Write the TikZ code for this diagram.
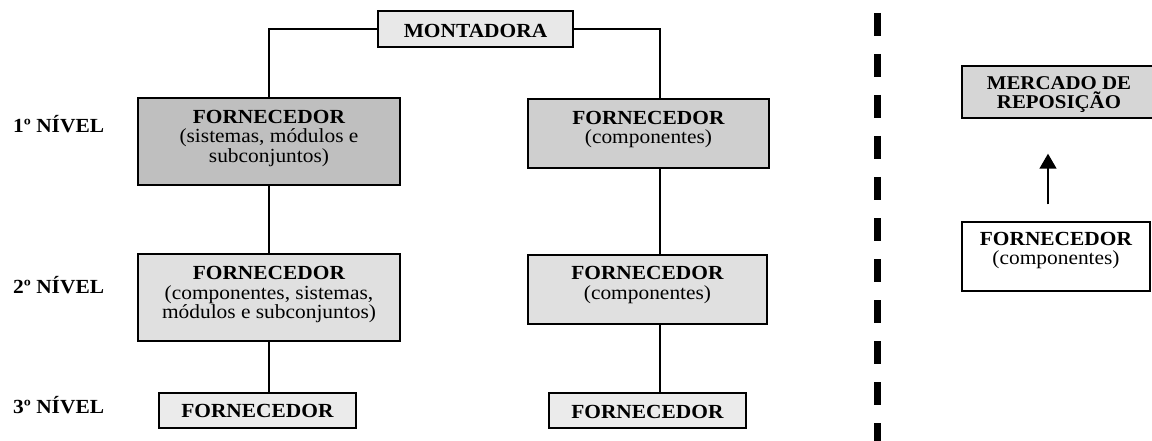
\documentclass[tikz,border=0pt]{standalone}
\usepackage{fontspec}
\setmainfont{Liberation Serif}[FakeStretch=1.07]
\usetikzlibrary{arrows.meta}
\begin{document}
\begin{tikzpicture}[x=1pt,y=-1pt,
  box/.style={draw=black, line width=1.4pt, inner sep=0pt},
  txt/.style={inner sep=0pt, align=center, font=\fontsize{20}{19.5}\selectfont},
  lvl/.style={anchor=west, inner sep=0pt, font=\fontsize{20}{19.5}\selectfont\bfseries},
  conn/.style={line width=1.5pt},
]
\useasboundingbox (0,0) rectangle (1152,441);
% boxes
\node[box, fill=gray!18, minimum width=195pt, minimum height=36pt] (mont) at (475.5,29) {};
\node[box, fill=gray!50, minimum width=262pt, minimum height=87pt] (f1l) at (269,141.5) {};
\node[box, fill=gray!38, minimum width=241pt, minimum height=69pt] (f1r) at (648.5,133.5) {};
\node[box, fill=gray!24, minimum width=262pt, minimum height=87pt] (f2l) at (269,297.5) {};
\node[box, fill=gray!24, minimum width=239pt, minimum height=69pt] (f2r) at (647.5,289.5) {};
\node[box, fill=gray!16, minimum width=197pt, minimum height=35pt] (f3l) at (257.5,410.5) {};
\node[box, fill=gray!16, minimum width=197pt, minimum height=35pt] (f3r) at (647.5,410.5) {};
\node[box, fill=gray!32, minimum width=194pt, minimum height=52pt] (merc) at (1059,92) {};
\node[box, fill=white, minimum width=188pt, minimum height=69pt] (fr) at (1056,256.5) {};
% texts
\node[txt, yshift=-2pt] (tmont) at (mont.center) {\textbf{MONTADORA}};
\node[txt, yshift=3pt] (tf1l) at (f1l.center) {\textbf{FORNECEDOR}\\(sistemas, módulos e\\subconjuntos)};
\node[txt, yshift=4pt] (tf1r) at (f1r.center) {\textbf{FORNECEDOR}\\(componentes)};
\node[txt, yshift=2.5pt] (tf2l) at (f2l.center) {\textbf{FORNECEDOR}\\(componentes, sistemas,\\módulos e subconjuntos)};
\node[txt, yshift=4.5pt] (tf2r) at (f2r.center) {\textbf{FORNECEDOR}\\(componentes)};
\node[txt] (tf3l) at (f3l.center) {\textbf{FORNECEDOR}};
\node[txt, yshift=-1pt] (tf3r) at (f3r.center) {\textbf{FORNECEDOR}};
\node[txt, yshift=-3pt, font=\fontsize{19.5}{19}\selectfont] (tmerc) at (merc.center) {\textbf{MERCADO DE}\\\textbf{REPOSIÇÃO}};
\node[txt, yshift=6pt] (tfr) at (fr.center) {\textbf{FORNECEDOR}\\(componentes)};
% level labels
\node[lvl] (l1) at (13,124) {1º NÍVEL};
\node[lvl] (l2) at (13,285) {2º NÍVEL};
\node[lvl] (l3) at (13,405) {3º NÍVEL};
% helper coordinates
\coordinate (rx) at (660,0);
\coordinate (ax) at (1048,0);
\coordinate (dtop) at (877,13);
\coordinate (dbot) at (877,446);
% connectors
\draw[conn] (mont.west) -| (f1l.north);
\draw[conn] (mont.east) -| (f1r.north -| rx);
\draw[conn] (f1l.south) -- (f2l.north);
\draw[conn] (f2l.south -| f1l.south) -- (f3l.north -| f1l.south);
\draw[conn] (f1r.south -| rx) -- (f2r.north -| rx);
\draw[conn] (f2r.south -| rx) -- (f3r.north -| rx);
\draw[line width=1.4pt, -{Triangle[length=15pt, width=17pt]}]
  ([yshift=17pt]fr.north -| ax) -- ([yshift=-35pt]merc.south -| ax);
% divider
\draw[line width=7pt, dash pattern=on 23pt off 18pt] (dtop) -- (dbot);
\end{tikzpicture}
\end{document}
